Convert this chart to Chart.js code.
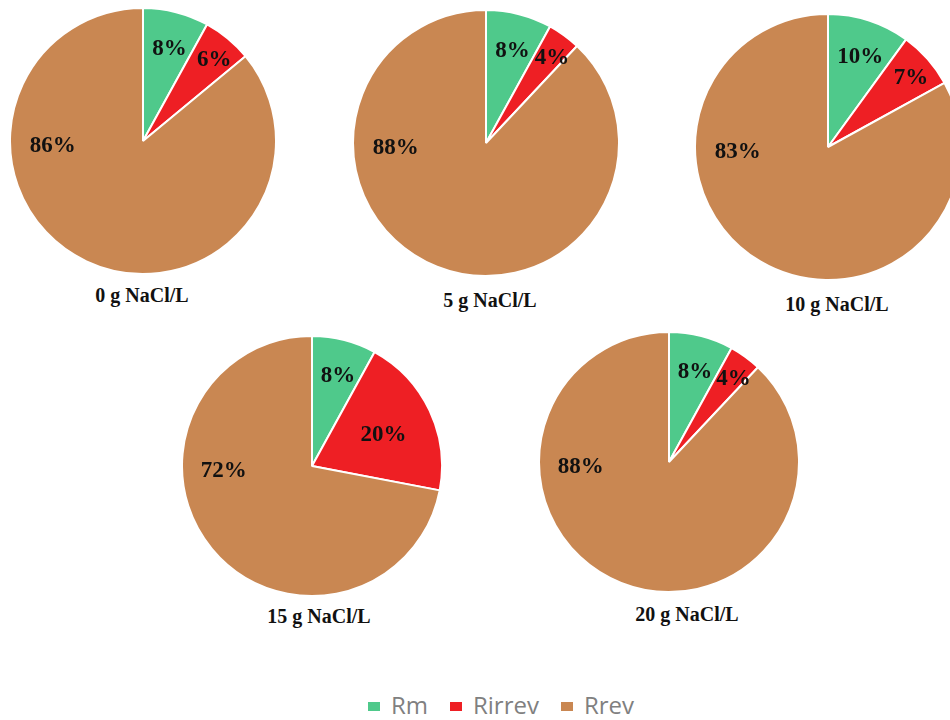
<!DOCTYPE html>
<html>
<head>
<meta charset="utf-8">
<script src="https://cdn.jsdelivr.net/npm/chart.js@4.4.1/dist/chart.umd.min.js"></script>
<style>
    html, body {
        margin: 0;
        padding: 0;
        background: #ffffff;
    }
    body {
        width: 950px;
        height: 720px;
        position: relative;
        overflow: hidden;
    }
    .pie-canvas {
        position: absolute;
    }
    .pie-title {
        position: absolute;
        transform: translate(-50%, -50%);
        white-space: nowrap;
        font: bold 20px "Liberation Serif", "Times New Roman", serif;
        color: #111;
    }
    .legend {
        position: absolute;
        left: 0;
        top: 688px;
        width: 100%;
        display: flex;
        justify-content: center;
        padding-left: 52px;
        box-sizing: border-box;
        font: 24px "Open Sans", sans-serif;
        color: #808080;
    }
    .legend-item {
        display: flex;
        align-items: center;
        margin: 0 11px;
    }
    .legend-box {
        width: 12px;
        height: 9px;
        margin-right: 11px;
        margin-top: 3px;
    }
</style>
</head>
<body>

<script>
// Resistance share per salt concentration (percent)
const categories = ['Rm', 'Rirrev', 'Rrev'];
const concentrations = ['0 g NaCl/L', '5 g NaCl/L', '10 g NaCl/L', '15 g NaCl/L', '20 g NaCl/L'];
const rmValues = [8, 8, 10, 8, 8];
const rirrevValues = [6, 4, 7, 20, 4];
const rrevValues = [86, 88, 83, 72, 88];

const sliceColors = ['#4fc98b', '#ee1f24', '#c98752'];

// Where each pie sits on the page (centre, radius, caption centre)
const pieLayout = [
    { cx: 143, cy: 141, r: 132, tx: 142, ty: 295 },
    { cx: 486, cy: 143, r: 132, tx: 490, ty: 300 },
    { cx: 828, cy: 147, r: 132, tx: 837, ty: 304 },
    { cx: 312, cy: 466, r: 129, tx: 319, ty: 616 },
    { cx: 669, cy: 462, r: 129, tx: 687, ty: 614 }
];

// Narrow slices get their label pushed outwards, the big one goes to the left
function labelRadius(value) {
    if (value < 8) return 0.81;
    if (value < 15) return 0.72;
    return 0.6;
}

const sliceLabels = {
    id: 'sliceLabels',
    afterDatasetsDraw(chart) {
        const ctx = chart.ctx;
        const data = chart.data.datasets[0].data;
        ctx.save();
        ctx.font = 'bold 23px "Liberation Serif", "Times New Roman", serif';
        ctx.fillStyle = '#111';
        ctx.textAlign = 'center';
        ctx.textBaseline = 'middle';
        chart.getDatasetMeta(0).data.forEach((arc, i) => {
            const { x, y, startAngle, endAngle, outerRadius } = arc.getProps(
                ['x', 'y', 'startAngle', 'endAngle', 'outerRadius'], true);
            const value = data[i];
            let angle, dist;
            if (value > 50) {
                angle = Math.PI - 0.06;
                dist = outerRadius * 0.68;
            } else {
                angle = (startAngle + endAngle) / 2 + 0.03;
                dist = outerRadius * labelRadius(value);
            }
            ctx.fillText(value + '%', x + Math.cos(angle) * dist, y + Math.sin(angle) * dist);
        });
        ctx.restore();
    }
};

concentrations.forEach((name, i) => {
    const pos = pieLayout[i];
    const size = pos.r * 2 + 4;

    const canvas = document.createElement('canvas');
    canvas.className = 'pie-canvas';
    canvas.width = size;
    canvas.height = size;
    canvas.style.width = size + 'px';
    canvas.style.height = size + 'px';
    canvas.style.left = (pos.cx - size / 2) + 'px';
    canvas.style.top = (pos.cy - size / 2) + 'px';
    document.body.appendChild(canvas);

    new Chart(canvas.getContext('2d'), {
        type: 'pie',
        data: {
            labels: categories,
            datasets: [{
                data: [rmValues[i], rirrevValues[i], rrevValues[i]],
                backgroundColor: sliceColors,
                borderColor: '#ffffff',
                borderWidth: 2
            }]
        },
        options: {
            responsive: false,
            animation: false,
            layout: { padding: 0 },
            plugins: {
                legend: { display: false },
                tooltip: { enabled: false }
            }
        },
        plugins: [sliceLabels]
    });

    const title = document.createElement('div');
    title.className = 'pie-title';
    title.textContent = name;
    title.style.left = pos.tx + 'px';
    title.style.top = pos.ty + 'px';
    document.body.appendChild(title);
});

// Shared legend under the pies
const legend = document.createElement('div');
legend.className = 'legend';
categories.forEach((cat, i) => {
    const item = document.createElement('div');
    item.className = 'legend-item';
    const box = document.createElement('span');
    box.className = 'legend-box';
    box.style.background = sliceColors[i];
    const label = document.createElement('span');
    label.textContent = cat;
    item.appendChild(box);
    item.appendChild(label);
    legend.appendChild(item);
});
document.body.appendChild(legend);
</script>
</body>
</html>
